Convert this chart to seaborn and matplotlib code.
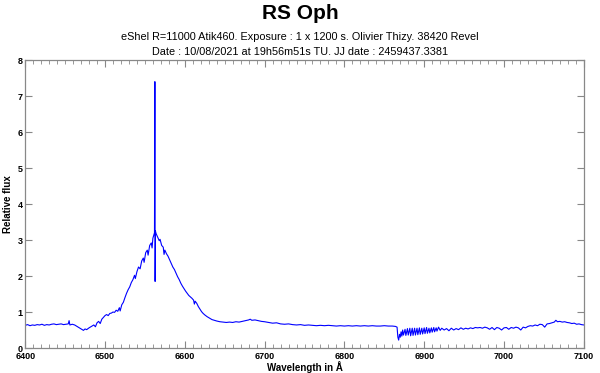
import numpy as np
import pandas as pd
import matplotlib
matplotlib.use("Agg")
import matplotlib.pyplot as plt
from matplotlib.ticker import MultipleLocator
import seaborn as sns

# wavelength (Angstrom) / relative flux
wave = [
    6400, 6403, 6406, 6409, 6412, 6415, 6418, 6421, 6424, 6427, 6430, 6433, 6436, 6439,
    6442, 6445, 6448, 6451, 6454, 6455, 6456, 6459, 6462, 6465, 6468, 6471, 6473, 6475,
    6477, 6480, 6483, 6486, 6488, 6490, 6492, 6494, 6496, 6498, 6500, 6502, 6504, 6506,
    6508, 6510, 6512, 6514, 6516, 6518, 6519, 6521, 6523, 6525, 6527, 6529, 6531, 6533,
    6535, 6537, 6538, 6540, 6542, 6544, 6546, 6548, 6549, 6551, 6553, 6554, 6556, 6558,
    6559, 6560, 6561, 6562, 6562.5, 6562.8, 6563.2, 6564, 6566, 6568, 6569, 6571, 6573,
    6574, 6575, 6577, 6579, 6581, 6583, 6585, 6587, 6589, 6591, 6593, 6595, 6597, 6599,
    6601, 6603, 6605, 6607, 6609, 6611, 6612, 6613, 6615, 6617, 6619, 6621, 6623, 6625,
    6628, 6631, 6634, 6637, 6640, 6644, 6648, 6652, 6656, 6660, 6664, 6668, 6672, 6676,
    6680, 6682, 6684, 6688, 6692, 6696, 6700, 6705, 6710, 6715, 6720, 6725, 6730, 6735,
    6740, 6745, 6750, 6755, 6760, 6765, 6770, 6775, 6780, 6785, 6790, 6795, 6800, 6805,
    6810, 6815, 6820, 6825, 6830, 6835, 6840, 6845, 6850, 6855, 6860, 6864, 6866, 6867,
    6868, 6869, 6870, 6871, 6872, 6873, 6874, 6876, 6877, 6879, 6880, 6882, 6883, 6885,
    6886, 6888, 6889, 6891, 6892, 6894, 6895, 6897, 6898, 6900, 6901, 6903, 6904, 6906,
    6907, 6909, 6910, 6912, 6913, 6915, 6916, 6918, 6920, 6922, 6925, 6928, 6931, 6934,
    6937, 6940, 6943, 6946, 6949, 6952, 6955, 6958, 6961, 6964, 6967, 6970, 6973, 6976,
    6979, 6982, 6985, 6988, 6991, 6994, 6997, 7000, 7003, 7006, 7009, 7012, 7015, 7018,
    7021, 7024, 7027, 7030, 7033, 7036, 7039, 7042, 7045, 7048, 7051, 7054, 7057, 7060,
    7063, 7065, 7067, 7070, 7073, 7076, 7079, 7082, 7085, 7088, 7091, 7094, 7097, 7100,
]
flux = [
    0.63, 0.65, 0.62, 0.64, 0.63, 0.65, 0.64, 0.66, 0.63, 0.65, 0.64, 0.66, 0.67, 0.65,
    0.66, 0.67, 0.65, 0.66, 0.67, 0.76, 0.64, 0.66, 0.64, 0.60, 0.56, 0.52, 0.49, 0.53,
    0.51, 0.56, 0.60, 0.64, 0.59, 0.70, 0.74, 0.68, 0.80, 0.85, 0.90, 0.93, 0.90, 0.96,
    0.97, 1.00, 0.99, 1.05, 1.02, 1.12, 1.03, 1.20, 1.27, 1.40, 1.52, 1.62, 1.70, 1.82,
    1.90, 2.02, 1.93, 2.12, 2.25, 2.20, 2.42, 2.50, 2.38, 2.65, 2.72, 2.58, 2.85, 2.92,
    2.78, 3.05, 3.12, 3.20, 7.40, 1.85, 3.25, 3.18, 3.08, 2.98, 3.02, 2.85, 2.80,
    2.60, 2.72, 2.62, 2.55, 2.45, 2.35, 2.25, 2.18, 2.08, 1.98, 1.90, 1.80, 1.72, 1.65,
    1.58, 1.52, 1.46, 1.42, 1.38, 1.33, 1.22, 1.30, 1.24, 1.15, 1.08, 1.01, 0.96, 0.92,
    0.87, 0.83, 0.79, 0.77, 0.75, 0.73, 0.72, 0.71, 0.72, 0.71, 0.73, 0.72, 0.74, 0.76,
    0.78, 0.80, 0.77, 0.78, 0.76, 0.74, 0.73, 0.71, 0.69, 0.70, 0.67, 0.66, 0.67, 0.65,
    0.64, 0.65, 0.63, 0.64, 0.63, 0.62, 0.63, 0.62, 0.63, 0.62, 0.61, 0.62, 0.61, 0.62,
    0.61, 0.62, 0.61, 0.62, 0.61, 0.62, 0.61, 0.61, 0.62, 0.61, 0.61, 0.60, 0.58, 0.30,
    0.22, 0.38, 0.30, 0.45, 0.33, 0.50, 0.36, 0.52, 0.35, 0.54, 0.36, 0.55, 0.34, 0.55,
    0.35, 0.55, 0.36, 0.55, 0.37, 0.56, 0.38, 0.55, 0.39, 0.56, 0.40, 0.57, 0.41, 0.55,
    0.42, 0.56, 0.44, 0.57, 0.45, 0.56, 0.47, 0.58, 0.49, 0.55, 0.50, 0.54, 0.48, 0.55,
    0.50, 0.54, 0.51, 0.56, 0.52, 0.55, 0.53, 0.56, 0.54, 0.57, 0.56, 0.57, 0.55, 0.58,
    0.56, 0.52, 0.57, 0.51, 0.57, 0.55, 0.50, 0.56, 0.57, 0.52, 0.57, 0.55, 0.58, 0.56,
    0.50, 0.58, 0.56, 0.60, 0.62, 0.61, 0.64, 0.62, 0.66, 0.65, 0.58, 0.67, 0.68, 0.70,
    0.72, 0.77, 0.73, 0.74, 0.72, 0.73, 0.71, 0.70, 0.68, 0.69, 0.66, 0.67, 0.65, 0.64,
]

title = "RS Oph"
subtitle = ("eShel R=11000 Atik460. Exposure : 1 x 1200 s. Olivier Thizy. 38420 Revel\n"
            "Date : 10/08/2021 at 19h56m51s TU. JJ date : 2459437.3381")

sns.set_theme(style="white")
plt.rcParams["font.family"] = ["Liberation Sans", "DejaVu Sans"]
plt.rcParams.update({"text.color": "black", "axes.labelcolor": "black",
                     "xtick.labelcolor": "black", "ytick.labelcolor": "black"})

df = pd.DataFrame({"wave": wave, "flux": flux})

fig = plt.figure(figsize=(6, 3.73), dpi=100)
ax = fig.add_axes([0.042, 0.067, 0.931, 0.772])

sns.lineplot(data=df, x="wave", y="flux", estimator=None, sort=False,
             color="#0000ff", linewidth=0.8, ax=ax)

ax.set_xlim(6400, 7100)
ax.set_ylim(0, 8)
ax.xaxis.set_major_locator(MultipleLocator(100))
ax.xaxis.set_minor_locator(MultipleLocator(10))
ax.yaxis.set_major_locator(MultipleLocator(1))
ax.tick_params(which="both", direction="in", top=True, right=True, bottom=True, left=True,
               color="#888888", labelsize=6.5)
ax.tick_params(axis="x", pad=3)
ax.tick_params(axis="y", pad=2)
ax.tick_params(which="major", length=5, width=0.8)
ax.tick_params(which="minor", length=3, width=0.6)
for lab in ax.get_xticklabels() + ax.get_yticklabels():
    lab.set_fontweight("bold")
for sp in ax.spines.values():
    sp.set_color("#888888")
    sp.set_linewidth(0.9)

ax.set_xlabel("Wavelength in Å", fontsize=7, fontweight="bold", labelpad=0)
ax.set_ylabel("Relative flux", fontsize=7, fontweight="bold", labelpad=3)

fig.text(0.5, 0.965, title, ha="center", va="center", fontsize=15, fontweight="bold")
fig.text(0.5, 0.880, subtitle, ha="center", va="center", fontsize=7.8, linespacing=1.6)

fig.savefig("out.png", dpi=100)
